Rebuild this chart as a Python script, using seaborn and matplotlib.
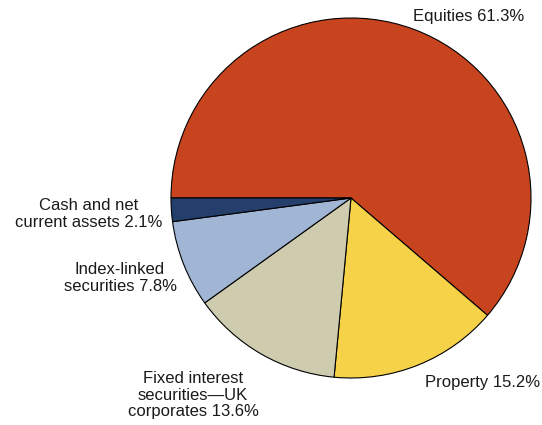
import matplotlib
matplotlib.use("Agg")
import matplotlib.pyplot as plt
import seaborn as sns

# Asset allocation of the pension fund
categories = ["Equities", "Property", "Fixed interest\nsecurities\u2014UK\ncorporates",
              "Index-linked\nsecurities", "Cash and net\ncurrent assets"]
shares = [61.3, 15.2, 13.6, 7.8, 2.1]
colors = ["#C8441F", "#F6D249", "#CECBAF", "#A1B6D4", "#243F6B"]

sns.set_theme(style="white")
plt.rcParams["font.family"] = ["Liberation Sans", "DejaVu Sans"]

W, H = 542, 425
fig = plt.figure(figsize=(W / 100, H / 100), dpi=100)

# pie centre and radius in pixels
cx, cy, r = 351, 198, 180
ax = fig.add_axes([(cx - r) / W, (H - cy - r) / H, 2 * r / W, 2 * r / H])
ax.pie(shares, colors=sns.color_palette(colors), startangle=180, counterclock=False,
       wedgeprops=dict(edgecolor="black", linewidth=0.8))
ax.set_xlim(-1, 1)
ax.set_ylim(-1, 1)
ax.set_aspect("equal")
ax.axis("off")

# label anchor points (pixel centres)
label_pos = [(469, 17), (483, 383), (193, 395), (120, 278), (89, 214)]
for name, val, (px, py) in zip(categories, shares, label_pos):
    fig.text(px / W, 1 - py / H, f"{name} {val}%", ha="center", va="center",
             fontsize=12, color="#1a1a1a", linespacing=1.12)

fig.savefig("out.png", dpi=100)
